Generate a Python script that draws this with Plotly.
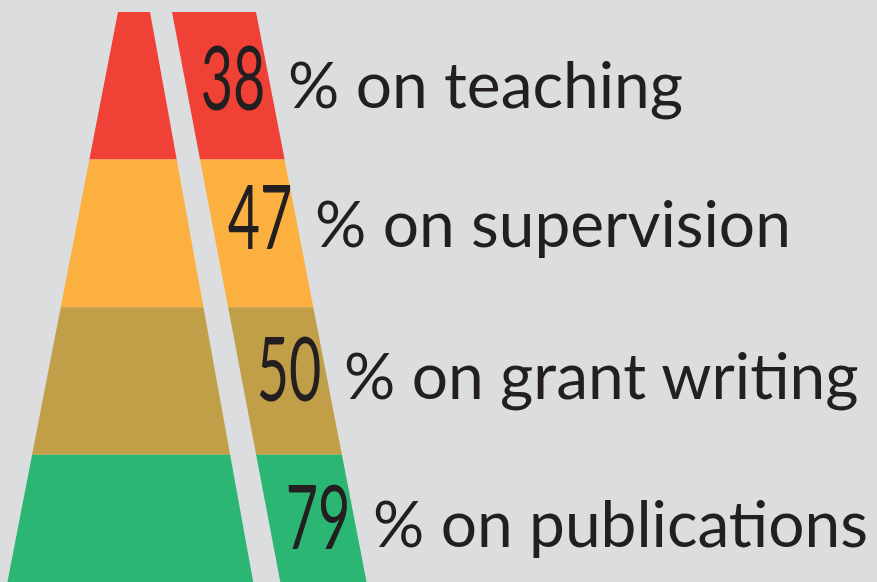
import plotly.graph_objects as go

# ---- data ----
categories = ["teaching", "supervision", "grant writing", "publications"]
values = [38, 47, 50, 79]
colors = ["#EF4136", "#FBB040", "#C19E48", "#2BB673"]

# ---- geometry (pixel-like coordinate system, y downwards) ----
W, H = 877, 582
top_y = 12
band_h = 147.6
cx = 187
top_half = 69          # half width of pyramid at top
slope = 0.194          # outward x per unit y of outer edges
gap_l0, gap_r0 = 150, 172   # gap edges at top
gap_sl_l, gap_sl_r = 0.181, 0.19
row_dy = [8, 0, 4, 4]  # small per-row baseline tweaks
TXT = "#231F20"

def outer_l(y):
    return cx - top_half - slope * (y - top_y)

def outer_r(y):
    return cx + top_half + slope * (y - top_y)

def gap_l(y):
    return gap_l0 + gap_sl_l * (y - top_y)

def gap_r(y):
    return gap_r0 + gap_sl_r * (y - top_y)

fig = go.Figure()
baselines = []
for i, (cat, val, col) in enumerate(zip(categories, values, colors)):
    y0 = top_y + i * band_h
    y1 = top_y + (i + 1) * band_h
    if i == len(categories) - 1:
        y1 = H + 30
    fig.add_trace(go.Scatter(
        x=[outer_l(y0), gap_l(y0), gap_l(y1), outer_l(y1), outer_l(y0)],
        y=[y0, y0, y1, y1, y0], mode="lines", fill="toself",
        fillcolor=col, line=dict(width=0, color=col), hoverinfo="skip",
        showlegend=False))
    fig.add_trace(go.Scatter(
        x=[gap_r(y0), outer_r(y0), outer_r(y1), gap_r(y1), gap_r(y0)],
        y=[y0, y0, y1, y1, y0], mode="lines", fill="toself",
        fillcolor=col, line=dict(width=0, color=col), hoverinfo="skip",
        showlegend=False))
    baselines.append(top_y + (i + 0.5) * band_h + 21 + row_dy[i])

# numbers first (annotation indices 0..3), then labels
for val, yb in zip(values, baselines):
    fig.add_annotation(x=outer_r(yb) - 9, y=yb, xref="x", yref="y",
                       text=str(val), showarrow=False, xanchor="right",
                       yanchor="bottom", yshift=-16,
                       font=dict(family="Lato, sans-serif", size=90, color=TXT))
for cat, yb in zip(categories, baselines):
    fig.add_annotation(x=outer_r(yb) + 10, y=yb, xref="x", yref="y",
                       text="% on " + cat, showarrow=False, xanchor="left",
                       yanchor="bottom", yshift=-9,
                       font=dict(family="Lato, sans-serif", size=64, color=TXT))

fig.update_layout(
    width=W, height=H, margin=dict(l=0, r=0, t=0, b=0),
    paper_bgcolor="#DCDDDF", plot_bgcolor="#DCDDDF",
    xaxis=dict(range=[0, W], visible=False, fixedrange=True),
    yaxis=dict(range=[H, 0], visible=False, fixedrange=True),
)

sel = ", ".join('g.annotation[data-index="%d"] text' % k for k in range(len(values)))
post = (
    "var s=document.createElement('style');"
    "s.textContent='html,body{margin:0;padding:0;overflow:hidden} "
    + sel +
    "{transform-box:fill-box;transform-origin:100% 50%;transform:scaleX(0.62);}';"
    "document.head.appendChild(s);"
)
fig.write_html("out.html", post_script=post, config={"displayModeBar": False})
